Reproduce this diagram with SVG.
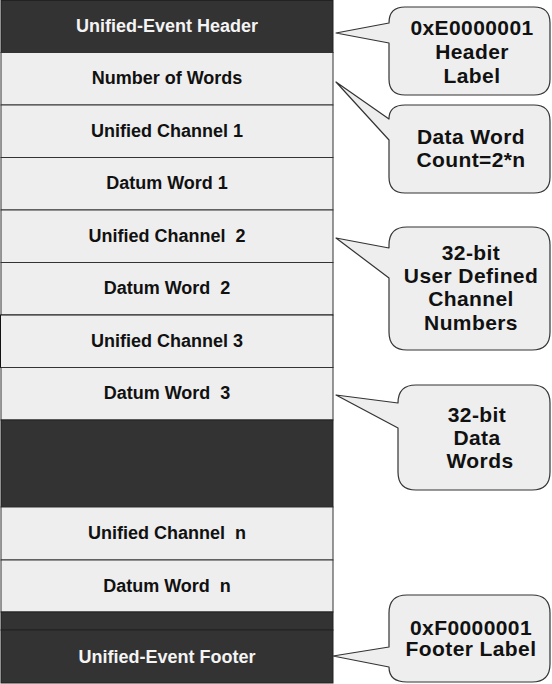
<svg xmlns="http://www.w3.org/2000/svg" width="552" height="684" viewBox="0 0 552 684">
<style>
.dk{fill:#333333;stroke:#222222;stroke-width:1}
.lt{fill:#eeeeee;stroke:#333333;stroke-width:1}
text{white-space:pre}
.tw{font-family:"Liberation Sans",Arial,sans-serif;font-weight:bold;font-size:18px;fill:#f4f4f4;text-anchor:middle}
.tb{font-family:"Liberation Sans",Arial,sans-serif;font-weight:bold;font-size:18px;fill:#111111;text-anchor:middle}
.bub{fill:#eeeeee;stroke:#333333;stroke-width:1.2;stroke-linejoin:round}
.bt{font-family:"Liberation Sans",Arial,sans-serif;font-weight:bold;font-size:21px;letter-spacing:0.4px;fill:#111111;text-anchor:middle}
</style>
<rect width="552" height="684" fill="#ffffff"/>
<g id="header"><rect class="dk" x="1" y="0.5" width="332" height="52"/><text class="tw" x="167" y="32">Unified-Event Header</text></g>
<g id="num-words"><rect class="lt" x="1" y="52.5" width="332" height="52.5"/><text class="tb" x="167" y="84">Number of Words</text></g>
<g id="chan1"><rect class="lt" x="1" y="105" width="332" height="52.5"/><text class="tb" x="167" y="137">Unified Channel 1</text></g>
<g id="datum1"><rect class="lt" x="1" y="157.5" width="332" height="52.5"/><text class="tb" x="167" y="189">Datum Word 1</text></g>
<g id="chan2"><rect class="lt" x="1" y="210" width="332" height="52.5"/><text class="tb" x="167" y="242">Unified Channel  2</text></g>
<g id="datum2"><rect class="lt" x="1" y="262.5" width="332" height="52.5"/><text class="tb" x="167" y="294">Datum Word  2</text></g>
<g id="chan3"><rect class="lt" x="0.5" y="315" width="332.5" height="52.5" style="stroke:#111111"/><text class="tb" x="167" y="347">Unified Channel 3</text></g>
<g id="datum3"><rect class="lt" x="1" y="367.5" width="332" height="52.5"/><text class="tb" x="167" y="399">Datum Word  3</text></g>
<g id="gap1"><rect class="dk" x="1" y="420" width="332" height="87"/></g>
<g id="chann"><rect class="lt" x="1" y="507" width="332" height="53"/><text class="tb" x="167" y="539">Unified Channel  n</text></g>
<g id="datumn"><rect class="lt" x="1" y="560" width="332" height="52"/><text class="tb" x="167" y="592">Datum Word  n</text></g>
<g id="gap2"><rect class="dk" x="1" y="612" width="332" height="18"/></g>
<g id="footer"><rect class="dk" x="1" y="630" width="332" height="53"/><text class="tw" x="167" y="663">Unified-Event Footer</text></g>
<g id="connectors"></g>
<g id="call-header"><path class="bub" d="M405,7 H534 Q550,7 550,23 V79 Q550,95 534,95 H405 Q389,95 389,79 V43 L336,33 L389,23 Q389,7 405,7 Z"/><text class="bt" x="472" y="35">0xE0000001</text><text class="bt" x="472" y="59">Header</text><text class="bt" x="472" y="83">Label</text></g>
<g id="call-count"><path class="bub" d="M405,105 H534 Q550,105 550,121 V177 Q550,193 534,193 H405 Q389,193 389,177 V140 L336,82 L389,119 Q389,105 405,105 Z"/><text class="bt" x="471" y="144">Data Word</text><text class="bt" x="471" y="167">Count=2*n</text></g>
<g id="call-chan"><path class="bub" d="M407,227 H532 Q550,227 550,245 V332 Q550,350 532,350 H407 Q389,350 389,332 V278 L336,238 L389,248 V245 Q389,227 407,227 Z"/><text class="bt" x="471" y="260">32-bit</text><text class="bt" x="471" y="283">User Defined</text><text class="bt" x="471" y="306">Channel</text><text class="bt" x="471" y="330">Numbers</text></g>
<g id="call-data"><path class="bub" d="M416,385 H532 Q550,385 550,403 V472 Q550,490 532,490 H416 Q398,490 398,472 V428 L336,395 L398,403 Q398,385 416,385 Z"/><text class="bt" x="477" y="422">32-bit</text><text class="bt" x="477" y="445">Data</text><text class="bt" x="480" y="468">Words</text></g>
<g id="call-footer"><path class="bub" d="M407,595 H532 Q550,595 550,613 V664 Q550,682 532,682 H407 Q389,682 389,667 L333,656 L389,647 V613 Q389,595 407,595 Z"/><text class="bt" x="471" y="635">0xF0000001</text><text class="bt" x="471" y="656">Footer Label</text></g>
</svg>
